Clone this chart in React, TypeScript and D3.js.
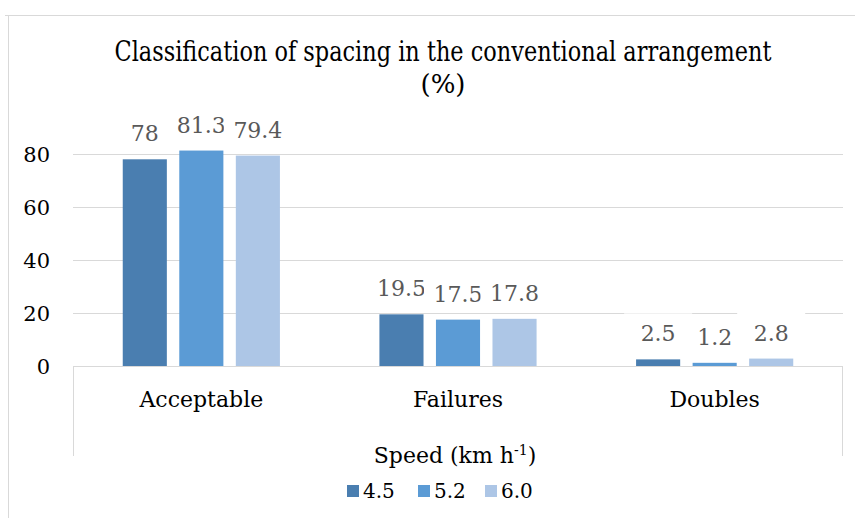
import React from "react";
import * as d3 from "d3";

const categories = ["Acceptable", "Failures", "Doubles"];
const speeds = ["4.5", "5.2", "6.0"];
const values45 = [78, 19.5, 2.5];
const values52 = [81.3, 17.5, 1.2];
const values60 = [79.4, 17.8, 2.8];
const yTicks = [0, 20, 40, 60, 80];
const colors = ["#4a7eb0", "#5b9bd5", "#adc6e6"];

const W = 855;
const H = 518;
// DejaVu Serif is the only serif face that resolved reliably here
const FONT = "DejaVu Serif, serif";

function App() {
  const seriesValues = [values45, values52, values60];

  const x0 = d3.scaleBand().domain(categories).range([73, 843]);
  const x1 = d3
    .scaleBand()
    .domain(speeds)
    .range([0, x0.bandwidth()])
    .paddingInner(0.22)
    .paddingOuter(0.88);
  const y = d3.scaleLinear().domain([0, 80]).range([366, 154]);

  const color = d3.scaleOrdinal<string, string>().domain(speeds).range(colors);

  const bars = categories.flatMap((c, ci) =>
    speeds.map((s, si) => ({ c, s, v: seriesValues[si][ci] }))
  );

  const legendX = [347, 418, 485];
  const ts = { fontFamily: FONT };

  return (
    <svg width={W} height={H} fontFamily={FONT} style={{ position: "absolute", left: 0, top: 0 }}>
      <rect width={W} height={H} fill="#fff" />
      {/* chart border */}
      <line x1={5} x2={W} y1={15.5} y2={15.5} stroke="#d9d9d9" />
      <line x1={8.5} x2={8.5} y1={15} y2={H} stroke="#d9d9d9" />

      {/* title */}
      <text
        x={443}
        y={61}
        textAnchor="middle"
        fontSize={27}
        textLength={657}
        lengthAdjust="spacingAndGlyphs"
        style={ts}
      >
        Classification of spacing in the conventional arrangement
      </text>
      <text x={443} y={93} textAnchor="middle" fontSize={26} style={ts}>
        (%)
      </text>

      {/* gridlines + y labels */}
      {yTicks.map(t => (
        <g key={t}>
          {t > 0 && (
            <line
              x1={73}
              x2={843}
              y1={Math.round(y(t)) + 0.5}
              y2={Math.round(y(t)) + 0.5}
              stroke="#d9d9d9"
            />
          )}
          <text x={50} y={y(t) + 8} textAnchor="end" fontSize={21} style={ts}>
            {t}
          </text>
        </g>
      ))}

      {/* category axis box */}
      <line x1={73} x2={843} y1={366.5} y2={366.5} stroke="#d9d9d9" />
      <line x1={73.5} x2={73.5} y1={366} y2={456} stroke="#d9d9d9" />
      <line x1={842.5} x2={842.5} y1={366} y2={456} stroke="#d9d9d9" />

      {/* bars */}
      {bars.map(b => (
        <rect
          key={b.c + b.s}
          x={(x0(b.c) ?? 0) + (x1(b.s) ?? 0)}
          y={y(b.v)}
          width={x1.bandwidth()}
          height={y(0) - y(b.v)}
          fill={color(b.s)}
        />
      ))}

      {/* data labels, white boxes like Excel's */}
      {bars.map(b => {
        const cx = (x0(b.c) ?? 0) + (x1(b.s) ?? 0) + x1.bandwidth() / 2;
        const base = y(b.v) - 18;
        return (
          <g key={"l" + b.c + b.s}>
            <rect x={cx - 34} y={base - 28} width={68} height={38} fill="#fff" />
            <text x={cx} y={base} textAnchor="middle" fontSize={22} fill="#595959" style={ts}>
              {b.v}
            </text>
          </g>
        );
      })}

      {/* category labels */}
      {categories.map(c => (
        <text
          key={c}
          x={(x0(c) ?? 0) + x0.bandwidth() / 2}
          y={407}
          textAnchor="middle"
          fontSize={22}
          style={ts}
        >
          {c}
        </text>
      ))}

      {/* legend */}
      <text x={455} y={463} textAnchor="middle" fontSize={22} style={ts}>
        Speed (km h
        <tspan dy={-8} fontSize={14}>
          -1
        </tspan>
        <tspan dy={8}>)</tspan>
      </text>
      {speeds.map((s, i) => (
        <g key={s}>
          <rect x={legendX[i]} y={485} width={12} height={12} fill={color(s)} />
          <text x={legendX[i] + 16} y={498} fontSize={20} style={ts}>
            {s}
          </text>
        </g>
      ))}
    </svg>
  );
}

export default App;
